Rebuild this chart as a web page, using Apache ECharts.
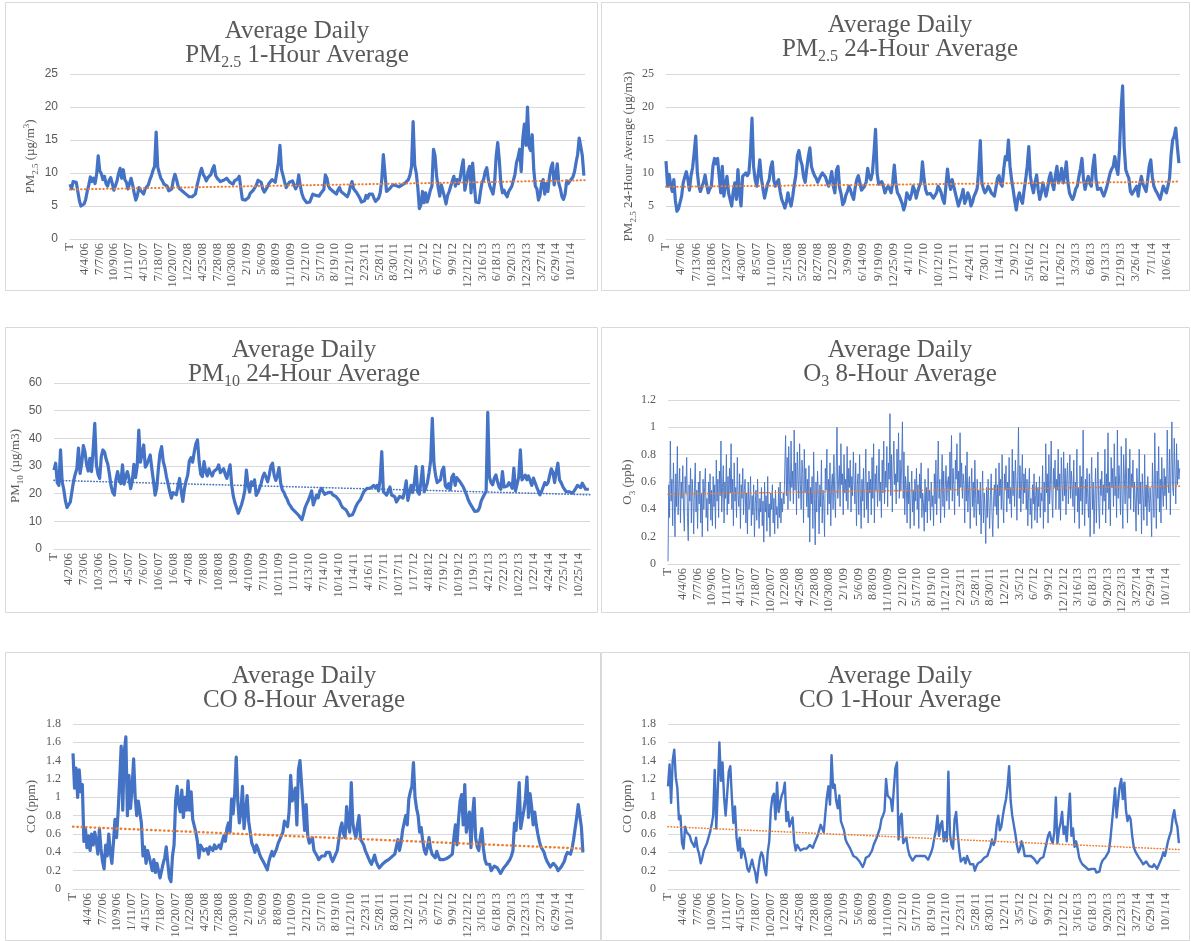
<!DOCTYPE html>
<html>
<head>
<meta charset="utf-8">
<title>Average Daily Air Quality</title>
<script src="https://cdn.jsdelivr.net/npm/echarts@6/dist/echarts.min.js"></script>
<style>
  html, body { margin: 0; padding: 0; background: #ffffff; }
  #chart { width: 1191px; height: 941px; }
</style>
</head>
<body>
<div id="chart"></div>
<script>
// Daily series 1/1/06 - 12/31/14, kept as one reading every SAMPLE_DAYS days
// (ozone every O3_SAMPLE_DAYS days).
const SAMPLE_DAYS = 10;
const O3_SAMPLE_DAYS = 5;
const LAST_DAY = 3287;

// Category tick labels (Excel shows every 94th / 97th / 92nd category)
const ticksEvery94 = ["T","4/4/06","7/7/06","10/9/06","1/11/07","4/15/07","7/18/07","10/20/07","1/22/08","4/25/08","7/28/08","10/30/08","2/1/09","5/6/09","8/8/09","11/10/09","2/12/10","5/17/10","8/19/10","11/21/10","2/23/11","5/28/11","8/30/11","12/2/11","3/5/12","6/7/12","9/9/12","12/12/12","3/16/13","6/18/13","9/20/13","12/23/13","3/27/14","6/29/14","10/1/14"];
const ticksEvery97 = ["T","4/7/06","7/13/06","10/18/06","1/23/07","4/30/07","8/5/07","11/10/07","2/15/08","5/22/08","8/27/08","12/2/08","3/9/09","6/14/09","9/19/09","12/25/09","4/1/10","7/7/10","10/12/10","1/17/11","4/24/11","7/30/11","11/4/11","2/9/12","5/16/12","8/21/12","11/26/12","3/3/13","6/8/13","9/13/13","12/19/13","3/26/14","7/1/14","10/6/14"];
const ticksEvery92 = ["T","4/2/06","7/3/06","10/3/06","1/3/07","4/5/07","7/6/07","10/6/07","1/6/08","4/7/08","7/8/08","10/8/08","1/8/09","4/10/09","7/11/09","10/11/09","1/11/10","4/13/10","7/14/10","10/14/10","1/14/11","4/16/11","7/17/11","10/17/11","1/17/12","4/18/12","7/19/12","10/19/12","1/19/13","4/21/13","7/22/13","10/22/13","1/22/14","4/24/14","7/25/14","10/25/14"];

// PM2.5 1-hour average (µg/m3)
const pm25OneHour = [
  8.3, 7.6, 8.7, 8.4, 8.6, 7.2, 5.8, 5.0, 4.8, 5.3,
  6.0, 7.2, 8.2, 9.4, 8.7, 9.2, 8.4, 9.8, 12.6, 10.3,
  9.9, 9.0, 9.5, 8.4, 8.0, 8.9, 9.3, 8.4, 7.4, 7.1,
  8.8, 9.9, 10.7, 9.2, 10.5, 9.0, 8.6, 7.6, 8.4, 9.2,
  8.2, 6.9, 5.9, 6.6, 7.8, 7.4, 7.2, 6.8, 7.6, 7.9,
  8.2, 9.0, 9.6, 10.4, 11.0, 16.2, 10.9, 10.0, 9.2, 8.8,
  8.3, 8.6, 8.0, 7.3, 7.0, 7.6, 9.0, 9.8, 9.0, 8.0,
  7.6, 7.8, 7.2, 7.0, 6.8, 6.5, 6.4, 6.6, 6.4, 6.5,
  6.8, 8.0, 9.0, 10.0, 10.7, 9.8, 9.4, 8.8, 9.3, 9.0,
  9.8, 10.6, 11.1, 9.6, 9.2, 8.9, 8.7, 8.6, 8.9, 8.7,
  9.2, 8.9, 8.6, 8.7, 8.3, 8.8, 8.9, 9.1, 9.5, 9.7,
  6.0, 5.8, 5.9, 5.6, 6.3, 6.9, 7.0, 7.4, 7.8, 8.2,
  8.9, 9.2, 8.6, 7.6, 7.1, 7.4, 7.9, 8.4, 8.7, 9.0,
  9.2, 8.6, 8.3, 11.5, 14.2, 10.5, 9.6, 8.6, 7.8, 8.0,
  8.6, 8.9, 8.8, 8.2, 7.6, 8.1, 9.7, 8.0, 6.9, 6.2,
  5.9, 5.5, 5.3, 5.6, 6.2, 6.8, 6.9, 6.6, 6.3, 6.5,
  6.9, 7.1, 7.5, 9.7, 9.2, 8.0, 7.6, 7.4, 7.2, 7.0,
  6.8, 7.4, 7.8, 7.2, 7.0, 6.8, 6.6, 6.4, 7.0, 8.0,
  8.7, 7.6, 7.4, 7.0, 6.8, 6.2, 5.6, 5.4, 5.8, 6.6,
  6.2, 6.8, 7.1, 6.8, 6.2, 5.7, 5.9, 6.2, 7.0, 9.0,
  12.8, 10.0, 7.2, 7.0, 7.6, 7.9, 8.2, 7.9, 8.1, 8.0,
  7.9, 8.1, 8.2, 8.4, 8.5, 8.6, 9.0, 9.7, 11.0, 17.8,
  11.2, 10.0, 7.8, 4.6, 5.2, 7.2, 5.5, 7.0, 5.6, 6.4,
  7.4, 8.0, 13.6, 12.6, 9.5, 7.8, 6.5, 8.2, 8.0, 6.4,
  5.3, 6.6, 7.2, 8.0, 8.8, 9.5, 8.0, 9.0, 8.4, 9.2,
  10.8, 12.0, 7.4, 8.6, 10.2, 11.0, 7.0, 11.5, 8.4, 5.6,
  5.3, 5.5, 7.2, 8.6, 9.0, 10.2, 10.8, 9.0, 8.0, 7.4,
  6.8, 8.5, 12.5, 14.6, 12.0, 8.4, 7.0, 7.4, 6.8, 6.4,
  7.2, 7.6, 8.0, 8.3, 9.8, 11.6, 12.4, 13.6, 10.2, 15.2,
  17.4, 14.2, 20.0, 14.0, 13.4, 15.8, 10.5, 8.0, 7.6, 5.9,
  6.6, 8.4, 9.0, 6.8, 8.4, 7.2, 9.4, 10.8, 11.5, 8.2,
  9.4, 11.4, 8.4, 7.6, 6.4, 6.0, 6.8, 8.8, 8.4, 8.8,
  8.6, 9.4, 10.2, 11.6, 12.8, 15.3, 14.0, 12.6, 9.6
];
const pm25OneHourTrend = [7.5, 8.9];

// PM2.5 24-hour average (µg/m3)
const pm25Daily24 = [
  11.8, 8.0, 9.8, 8.2, 7.2, 9.0, 5.8, 4.2, 4.6, 4.4,
  6.5, 8.5, 9.4, 10.2, 9.0, 7.4, 9.6, 10.8, 13.0, 15.6,
  10.2, 8.0, 7.2, 7.0, 8.6, 9.7, 8.2, 7.0, 7.6, 8.0,
  11.0, 12.2, 11.4, 12.2, 9.5, 7.0, 11.0, 6.5, 8.2, 9.5,
  7.0, 6.0, 5.0, 7.2, 8.5, 6.0, 10.5, 7.0, 5.0, 9.5,
  9.8, 10.0, 9.6, 10.0, 13.0, 18.3, 11.0, 9.0, 8.0, 9.8,
  12.0, 9.2, 7.6, 6.2, 6.4, 8.4, 9.0, 10.8, 11.7, 8.8,
  8.0, 8.6, 9.0, 7.2, 6.0, 5.4, 4.7, 5.6, 7.0, 5.8,
  5.0, 6.4, 8.2, 9.6, 12.6, 13.4, 12.0, 11.2, 9.4, 8.6,
  10.6, 12.5, 13.8, 11.0, 10.2, 9.6, 9.2, 8.6, 8.8, 9.6,
  10.0, 10.2, 9.4, 8.6, 8.0, 9.0, 10.2, 8.0, 7.0, 10.4,
  11.0, 7.8, 6.8, 5.2, 5.6, 6.6, 7.2, 8.0, 7.4, 6.6,
  6.0, 7.8, 9.0, 9.6, 9.6, 7.4, 7.2, 8.0, 8.6, 10.7,
  9.4, 9.0, 10.0, 13.0, 16.6, 10.0, 8.3, 8.6, 8.7, 8.0,
  7.0, 7.6, 8.0, 7.6, 7.0, 8.6, 11.2, 8.4, 7.0, 6.6,
  6.4, 5.4, 4.4, 5.2, 7.0, 6.4, 6.0, 6.8, 8.0, 7.4,
  6.2, 7.2, 8.0, 8.6, 11.7, 9.2, 7.5, 6.8, 6.5, 6.9,
  6.7, 6.2, 6.5, 7.0, 8.0, 7.6, 7.0, 6.0, 5.4, 8.0,
  10.6, 8.6, 7.5, 9.0, 8.0, 7.0, 6.0, 5.0, 4.7, 6.5,
  7.5, 5.4, 6.0, 7.0, 6.4, 5.0, 5.6, 6.5, 7.0, 7.7,
  10.5, 14.9, 8.5, 7.6, 7.0, 7.4, 8.0, 7.6, 7.0, 6.8,
  6.5, 7.8, 9.2, 9.6, 8.4, 8.0, 10.6, 12.5, 12.0, 15.0,
  11.0, 9.0, 7.5, 5.8, 4.4, 6.2, 7.0, 6.0, 5.4, 7.4,
  9.0, 11.0, 14.0, 9.6, 8.0, 7.0, 8.6, 9.7, 7.5, 6.0,
  7.0, 8.5, 7.6, 6.5, 7.6, 9.2, 10.0, 8.4, 7.5, 9.6,
  11.0, 8.5, 9.2, 10.7, 8.5, 9.6, 11.7, 8.6, 7.0, 6.4,
  6.0, 6.6, 7.6, 8.0, 9.4, 10.6, 12.2, 9.0, 7.5, 8.6,
  9.5, 8.4, 8.0, 11.0, 12.7, 9.0, 7.5, 7.2, 7.7, 7.0,
  6.5, 7.2, 8.0, 9.0, 10.0, 10.6, 11.0, 12.5, 10.8, 9.8,
  13.5, 19.5, 23.2, 14.0, 10.5, 9.8, 9.2, 7.2, 6.8, 6.5,
  7.6, 8.0, 6.5, 8.4, 9.5, 8.3, 8.0, 7.2, 9.0, 11.0,
  12.0, 9.4, 8.0, 7.4, 7.0, 6.5, 6.0, 7.0, 8.0, 7.4,
  7.0, 8.0, 9.2, 12.7, 15.0, 15.6, 16.8, 14.0, 11.5
];
const pm25Daily24Trend = [7.9, 8.7];

// PM10 24-hour average (µg/m3)
const pm10Daily24 = [
  28.5, 31.0, 24.0, 23.0, 35.8, 24.3, 21.5, 17.4, 15.0, 14.6,
  17.0, 20.8, 24.6, 27.0, 29.0, 36.5, 27.3, 31.0, 37.4, 35.0,
  30.5, 28.2, 32.8, 28.0, 35.8, 45.4, 30.4, 27.0, 25.5, 33.4,
  35.8, 35.0, 32.4, 30.6, 27.0, 22.8, 20.5, 19.5, 25.2, 28.0,
  25.0, 23.6, 30.4, 23.4, 26.0, 28.0, 25.5, 21.8, 24.6, 30.6,
  25.8, 30.0, 43.0, 31.4, 34.4, 37.6, 29.6, 30.6, 31.0, 34.0,
  29.0, 24.6, 19.5, 22.0, 29.0, 34.6, 37.0, 31.6, 29.4, 26.0,
  23.4, 20.6, 18.4, 20.4, 20.0, 19.6, 22.6, 25.5, 21.0, 17.2,
  21.8, 24.6, 26.7, 31.8, 33.0, 31.4, 35.0, 38.0, 39.4, 31.6,
  27.0, 26.2, 31.6, 28.0, 26.4, 29.0, 27.4, 26.4, 28.0, 28.5,
  29.0, 30.4, 27.6, 27.0, 29.0, 27.0, 25.5, 28.0, 30.4, 23.0,
  19.0, 16.6, 14.8, 12.9, 14.4, 16.0, 18.2, 21.0, 28.5, 23.0,
  20.6, 24.3, 23.0, 25.0, 19.4, 20.4, 21.9, 23.6, 26.1, 27.4,
  26.0, 24.3, 26.7, 30.0, 31.0, 26.7, 24.8, 26.5, 29.4, 23.8,
  21.4, 20.5, 19.0, 18.0, 16.4, 15.6, 14.6, 14.0, 13.4, 12.8,
  12.2, 11.4, 10.6, 12.6, 15.0, 16.4, 17.6, 18.3, 21.0, 15.9,
  17.6, 19.5, 18.5, 21.0, 21.9, 20.8, 19.8, 19.5, 20.4, 20.7,
  20.5, 19.6, 19.0, 18.9, 18.2, 17.4, 16.0, 15.0, 14.5, 14.2,
  13.2, 12.0, 11.7, 12.4, 13.6, 15.2, 16.4, 17.2, 18.0, 19.4,
  20.7, 21.4, 21.9, 21.6, 22.0, 22.4, 23.0, 22.2, 23.0, 21.0,
  25.0, 35.2, 20.7, 20.0, 19.5, 21.0, 22.4, 19.5, 19.0, 18.9,
  17.0, 16.4, 19.0, 18.6, 18.4, 21.0, 24.6, 17.6, 20.4, 23.0,
  20.4, 24.0, 29.8, 20.7, 19.8, 24.0, 29.8, 20.7, 22.0, 24.0,
  27.6, 32.0, 47.2, 31.0, 26.6, 24.0, 23.4, 25.0, 28.4, 29.6,
  22.8, 22.0, 23.6, 21.4, 26.0, 27.0, 23.0, 25.8, 25.6, 24.3,
  23.6, 22.4, 21.0, 19.6, 17.8, 16.6, 15.6, 14.6, 13.6, 13.5,
  13.8, 15.0, 17.4, 18.6, 19.8, 20.7, 49.4, 26.0, 24.0, 23.2,
  25.6, 26.8, 24.3, 22.4, 21.6, 28.0, 22.4, 22.0, 22.8, 24.0,
  23.2, 21.9, 29.2, 21.0, 21.4, 26.0, 35.8, 25.0, 24.4, 26.7,
  25.0, 26.4, 27.0, 23.0, 25.6, 25.0, 22.4, 21.0, 19.6, 20.8,
  22.4, 24.0, 23.2, 24.0, 26.7, 29.0, 27.6, 24.0, 28.0, 31.0,
  25.0, 24.0, 22.6, 21.6, 20.7, 20.5, 20.7, 20.5, 20.2, 21.0,
  21.9, 23.0, 23.4, 22.2, 23.8, 24.0, 21.6, 21.2, 21.6
];
const pm10Daily24Trend = [24.8, 19.6];

// O3 8-hour average (ppb), one reading every 5 days
const o3EightHour = [
  0.02, 0.58, 0.34, 0.90, 0.46, 0.62, 0.28, 0.74, 0.50, 0.20, 0.66, 0.42, 0.86, 0.36, 0.56, 0.70, 0.30, 0.60, 0.48, 0.72,
  0.40, 0.24, 0.64, 0.52, 0.78, 0.34, 0.17, 0.58, 0.46, 0.70, 0.30, 0.62, 0.50, 0.22, 0.56, 0.74, 0.38, 0.54, 0.26, 0.60,
  0.44, 0.68, 0.30, 0.52, 0.20, 0.62, 0.40, 0.56, 0.70, 0.34, 0.48, 0.24, 0.60, 0.44, 0.66, 0.32, 0.54, 0.28, 0.64, 0.42,
  0.58, 0.26, 0.76, 0.46, 0.62, 0.34, 0.68, 0.50, 0.90, 0.38, 0.56, 0.72, 0.30, 0.60, 0.48, 0.80, 0.36, 0.64, 0.44, 0.70,
  0.52, 0.88, 0.40, 0.62, 0.28, 0.74, 0.46, 0.56, 0.34, 0.78, 0.50, 0.42, 0.66, 0.26, 0.58, 0.48, 0.70, 0.36, 0.54, 0.62,
  0.30, 0.52, 0.22, 0.60, 0.40, 0.46, 0.64, 0.28, 0.50, 0.36, 0.58, 0.20, 0.44, 0.54, 0.32, 0.62, 0.42, 0.26, 0.48, 0.38,
  0.56, 0.28, 0.46, 0.16, 0.60, 0.38, 0.50, 0.24, 0.64, 0.34, 0.44, 0.20, 0.52, 0.40, 0.58, 0.30, 0.48, 0.22, 0.54, 0.36,
  0.42, 0.26, 0.56, 0.34, 0.60, 0.30, 0.48, 0.38, 0.52, 0.44, 0.70, 0.94, 0.50, 0.78, 0.40, 0.86, 0.60, 0.46, 0.90, 0.56,
  0.68, 0.44, 0.98, 0.54, 0.74, 0.36, 0.82, 0.62, 0.48, 0.88, 0.58, 0.40, 0.76, 0.66, 0.30, 0.84, 0.52, 0.70, 0.42, 0.62,
  0.34, 0.72, 0.16, 0.56, 0.44, 0.64, 0.26, 0.82, 0.48, 0.14, 0.60, 0.38, 0.68, 0.50, 0.22, 0.58, 0.42, 0.76, 0.30, 0.54,
  0.46, 0.20, 0.70, 0.54, 0.84, 0.36, 0.62, 0.44, 0.74, 0.28, 0.58, 0.66, 0.40, 0.80, 0.52, 0.34, 0.68, 1.00, 0.48, 0.60,
  0.72, 0.42, 0.88, 0.58, 0.66, 0.36, 0.80, 0.52, 0.62, 0.46, 0.86, 0.40, 0.70, 0.56, 0.76, 0.38, 0.64, 0.50, 0.82, 0.60,
  0.44, 0.74, 0.28, 0.58, 0.66, 0.36, 0.80, 0.50, 0.26, 0.62, 0.46, 0.70, 0.34, 0.56, 0.84, 0.40, 0.60, 0.30, 0.68, 0.52,
  0.62, 0.36, 0.78, 0.48, 0.88, 0.30, 0.66, 0.54, 0.72, 0.42, 0.58, 0.84, 0.46, 0.60, 0.34, 0.76, 0.52, 0.90, 0.44, 0.68,
  0.56, 0.86, 0.42, 0.74, 0.62, 1.10, 0.50, 0.80, 0.38, 0.70, 0.90, 0.58, 0.66, 0.44, 0.84, 0.60, 0.96, 0.48, 0.76, 0.54,
  0.72, 1.04, 0.48, 0.82, 0.36, 0.64, 0.56, 0.30, 0.72, 0.44, 0.60, 0.26, 0.50, 0.68, 0.38, 0.54, 0.28, 0.62, 0.46, 0.70,
  0.40, 0.58, 0.26, 0.66, 0.48, 0.74, 0.34, 0.52, 0.44, 0.24, 0.62, 0.38, 0.56, 0.30, 0.70, 0.46, 0.54, 0.32, 0.60, 0.42,
  0.50, 0.28, 0.66, 0.44, 0.76, 0.36, 0.58, 0.90, 0.48, 0.62, 0.30, 0.54, 0.80, 0.42, 0.68, 0.34, 0.56, 0.72, 0.46, 0.60,
  0.64, 0.40, 0.82, 0.54, 0.94, 0.46, 0.70, 0.58, 0.36, 0.76, 0.62, 0.88, 0.50, 0.68, 0.42, 0.96, 0.56, 0.74, 0.48, 0.66,
  0.58, 0.30, 0.72, 0.46, 0.82, 0.38, 0.56, 0.64, 0.26, 0.52, 0.70, 0.42, 0.60, 0.34, 0.76, 0.48, 0.28, 0.62, 0.44, 0.54,
  0.36, 0.60, 0.22, 0.48, 0.68, 0.30, 0.52, 0.40, 0.15, 0.56, 0.34, 0.62, 0.44, 0.26, 0.50, 0.66, 0.38, 0.20, 0.46, 0.58,
  0.42, 0.70, 0.36, 0.58, 0.26, 0.74, 0.50, 0.62, 0.40, 0.80, 0.46, 0.30, 0.66, 0.54, 0.72, 0.38, 0.60, 0.48, 0.78, 0.44,
  0.56, 0.34, 0.84, 0.50, 0.68, 0.42, 0.76, 0.58, 0.32, 0.64, 1.00, 0.48, 0.72, 0.38, 0.60, 0.80, 0.44, 0.66, 0.52, 0.70,
  0.40, 0.62, 0.28, 0.54, 0.70, 0.36, 0.48, 0.26, 0.58, 0.44, 0.66, 0.32, 0.50, 0.60, 0.30, 0.56, 0.42, 0.64, 0.34, 0.52,
  0.46, 0.72, 0.26, 0.60, 0.38, 0.88, 0.52, 0.66, 0.30, 0.80, 0.44, 0.58, 0.90, 0.48, 0.34, 0.70, 0.56, 0.76, 0.40, 0.62,
  0.54, 0.84, 0.40, 0.66, 0.32, 0.78, 0.58, 0.46, 0.82, 0.50, 0.70, 0.36, 0.62, 0.74, 0.44, 0.60, 0.80, 0.48, 0.68, 0.56,
  0.42, 0.76, 0.30, 0.60, 0.50, 0.84, 0.38, 0.56, 0.26, 0.72, 0.46, 0.64, 0.36, 0.98, 0.52, 0.28, 0.62, 0.44, 0.70, 0.48,
  0.34, 0.66, 0.20, 0.54, 0.78, 0.40, 0.60, 0.22, 0.48, 0.70, 0.30, 0.56, 0.82, 0.44, 0.26, 0.62, 0.50, 0.68, 0.36, 0.58,
  0.46, 0.84, 0.30, 0.66, 0.52, 0.96, 0.40, 0.60, 0.28, 0.78, 0.56, 0.70, 0.42, 0.88, 0.50, 0.64, 0.34, 0.98, 0.48, 0.72,
  0.58, 0.36, 0.86, 0.50, 0.26, 0.80, 0.62, 0.44, 0.92, 0.54, 0.30, 0.70, 0.48, 0.84, 0.40, 0.66, 0.56, 0.76, 0.38, 0.60,
  0.46, 0.24, 0.70, 0.52, 0.36, 0.84, 0.44, 0.60, 0.22, 0.66, 0.50, 0.32, 0.80, 0.42, 0.58, 0.28, 0.64, 0.48, 0.38, 0.56,
  0.44, 0.20, 0.74, 0.52, 0.34, 0.96, 0.58, 0.26, 0.68, 0.48, 0.86, 0.38, 0.62, 0.30, 0.78, 0.54, 0.42, 0.70, 0.50, 0.64,
  0.40, 0.98, 0.60, 0.52, 0.84, 0.36, 0.72, 1.04, 0.56, 0.50, 0.92, 0.66, 0.44, 0.88, 0.58, 0.76, 0.62, 0.70
];
const o3EightHourTrend = [0.51, 0.57];

// CO 8-hour average (ppm)
const coEightHour = [
  1.48, 1.10, 1.32, 1.00, 1.30, 1.06, 1.14, 0.52, 0.66, 0.45,
  0.58, 0.42, 0.60, 0.48, 0.62, 0.52, 0.38, 0.66, 0.44, 0.30,
  0.22, 0.48, 0.36, 0.60, 0.40, 0.28, 0.50, 0.76, 0.56, 0.84,
  1.18, 1.56, 0.86, 1.50, 1.66, 0.80, 1.24, 0.88, 1.10, 1.42,
  1.00, 0.80, 0.96, 0.98, 0.72, 0.36, 0.46, 0.28, 0.42, 0.44,
  0.28, 0.20, 0.32, 0.18, 0.28, 0.30, 0.12, 0.20, 0.28, 0.34,
  0.46, 0.28, 0.12, 0.08, 0.36, 0.48, 0.96, 1.12, 0.92, 0.84,
  1.08, 0.78, 1.00, 0.86, 1.18, 0.86, 1.06, 0.76, 0.78, 0.62,
  0.52, 0.34, 0.48, 0.50, 0.42, 0.40, 0.44, 0.38, 0.46, 0.48,
  0.42, 0.48, 0.44, 0.46, 0.48, 0.44, 0.52, 0.58, 0.52, 0.66,
  0.72, 0.62, 0.98, 0.82, 1.04, 1.44, 0.96, 0.72, 0.84, 1.12,
  0.66, 0.68, 1.02, 0.74, 0.62, 0.50, 0.46, 0.40, 0.48, 0.44,
  0.38, 0.34, 0.32, 0.28, 0.26, 0.21, 0.30, 0.36, 0.41, 0.36,
  0.34, 0.44, 0.50, 0.54, 0.58, 0.62, 0.74, 0.72, 0.68, 0.84,
  1.24, 0.96, 1.02, 1.10, 0.70, 1.30, 1.40, 1.42, 0.90, 0.64,
  0.92, 0.58, 0.50, 0.52, 0.56, 0.42, 0.40, 0.36, 0.32, 0.30,
  0.36, 0.38, 0.36, 0.40, 0.40, 0.40, 0.34, 0.30, 0.34, 0.38,
  0.42, 0.54, 0.66, 0.72, 0.60, 0.56, 0.90, 0.70, 0.62, 1.16,
  0.72, 0.62, 0.56, 0.70, 0.80, 0.54, 0.52, 0.48, 0.42, 0.38,
  0.34, 0.30, 0.27, 0.32, 0.37, 0.30, 0.26, 0.23, 0.25, 0.27,
  0.28, 0.30, 0.30, 0.32, 0.34, 0.35, 0.36, 0.38, 0.46, 0.54,
  0.42, 0.50, 0.64, 0.72, 0.80, 0.70, 0.98, 1.06, 1.12, 1.38,
  1.00, 0.88, 0.80, 0.62, 0.67, 0.52, 0.42, 0.38, 0.46, 0.56,
  0.44, 0.38, 0.36, 0.34, 0.41, 0.36, 0.32, 0.30, 0.32, 0.34,
  0.33, 0.34, 0.35, 0.36, 0.38, 0.56, 0.70, 0.48, 0.76, 0.96,
  1.03, 0.70, 1.14, 0.62, 0.74, 0.84, 0.45, 0.80, 0.99, 0.56,
  0.46, 0.42, 0.56, 0.66, 0.44, 0.32, 0.27, 0.26, 0.27, 0.20,
  0.18, 0.25, 0.24, 0.23, 0.20, 0.17, 0.18, 0.23, 0.25, 0.27,
  0.28, 0.32, 0.36, 0.42, 0.72, 0.64, 0.90, 1.16, 0.66, 0.76,
  0.86, 0.98, 1.22, 0.78, 1.04, 0.90, 0.70, 0.84, 0.70, 0.60,
  0.52, 0.46, 0.44, 0.40, 0.34, 0.30, 0.28, 0.24, 0.26, 0.28,
  0.26, 0.24, 0.20, 0.22, 0.24, 0.23, 0.30, 0.36, 0.40, 0.42,
  0.38, 0.44, 0.54, 0.66, 0.78, 0.92, 0.80, 0.68, 0.40
];
const coEightHourTrend = [0.68, 0.44];

// CO 1-hour average (ppm)
const coOneHour = [
  1.12, 1.36, 0.94, 1.40, 1.52, 1.22, 1.10, 0.76, 0.80, 0.50,
  0.44, 0.68, 0.62, 0.60, 0.58, 0.52, 0.50, 0.46, 0.56, 0.44,
  0.38, 0.28, 0.34, 0.42, 0.46, 0.50, 0.56, 0.62, 0.70, 0.80,
  1.30, 0.66, 1.10, 1.60, 1.18, 1.38, 1.00, 0.80, 1.04, 1.28,
  1.34, 1.00, 0.72, 0.90, 0.56, 0.42, 0.56, 0.34, 0.44, 0.40,
  0.32, 0.22, 0.19, 0.26, 0.32, 0.24, 0.18, 0.07, 0.22, 0.34,
  0.40, 0.36, 0.22, 0.15, 0.40, 0.52, 0.86, 1.00, 1.04, 0.76,
  1.16, 0.84, 0.94, 1.02, 1.06, 1.16, 0.74, 0.84, 0.68, 0.66,
  0.78, 0.52, 0.42, 0.48, 0.46, 0.42, 0.41, 0.44, 0.46, 0.44,
  0.46, 0.48, 0.46, 0.45, 0.50, 0.54, 0.58, 0.64, 0.70, 0.66,
  0.62, 0.82, 1.00, 1.12, 0.92, 1.46, 1.10, 1.14, 0.96, 0.88,
  1.02, 0.74, 0.76, 0.64, 0.54, 0.50, 0.48, 0.44, 0.40, 0.36,
  0.36, 0.34, 0.32, 0.30, 0.27, 0.24, 0.28, 0.34, 0.36, 0.36,
  0.34, 0.42, 0.48, 0.52, 0.56, 0.58, 0.66, 0.76, 0.80, 0.85,
  1.20, 1.02, 1.00, 0.98, 0.85, 1.10, 1.32, 1.38, 0.54, 0.78,
  0.82, 0.50, 0.52, 0.56, 0.44, 0.37, 0.34, 0.31, 0.32, 0.36,
  0.37, 0.36, 0.37, 0.36, 0.37, 0.36, 0.34, 0.32, 0.36, 0.40,
  0.46, 0.56, 0.64, 0.80, 0.58, 0.70, 0.74, 0.52, 0.62, 0.52,
  1.28, 0.60, 0.48, 0.44, 0.76, 0.84, 0.60, 0.42, 0.30, 0.30,
  0.34, 0.28, 0.36, 0.34, 0.27, 0.26, 0.27, 0.20, 0.25, 0.28,
  0.29, 0.30, 0.32, 0.34, 0.35, 0.36, 0.38, 0.46, 0.54, 0.48,
  0.52, 0.70, 0.80, 0.64, 0.68, 0.80, 0.90, 0.98, 1.12, 1.34,
  0.96, 0.80, 0.70, 0.60, 0.48, 0.40, 0.44, 0.52, 0.46, 0.36,
  0.34, 0.36, 0.37, 0.36, 0.35, 0.33, 0.31, 0.28, 0.30, 0.33,
  0.34, 0.35, 0.37, 0.50, 0.58, 0.62, 0.54, 0.50, 0.62, 1.00,
  0.50, 0.64, 0.72, 0.84, 0.60, 0.68, 0.52, 0.80, 1.04, 0.58,
  0.66, 0.46, 0.52, 0.44, 0.34, 0.30, 0.27, 0.26, 0.24, 0.23,
  0.21, 0.19, 0.22, 0.24, 0.22, 0.18, 0.16, 0.19, 0.27, 0.31,
  0.33, 0.35, 0.38, 0.41, 0.54, 0.72, 0.90, 1.10, 0.78, 0.96,
  1.12, 1.20, 0.98, 1.16, 0.86, 0.74, 0.80, 0.76, 0.58, 0.46,
  0.41, 0.38, 0.35, 0.33, 0.30, 0.27, 0.28, 0.30, 0.28, 0.25,
  0.23, 0.24, 0.27, 0.25, 0.22, 0.22, 0.30, 0.34, 0.40, 0.36,
  0.44, 0.52, 0.58, 0.63, 0.78, 0.86, 0.74, 0.68, 0.50
];
const coOneHourTrend = [0.68, 0.43];

// ---------------------------------------------------------------------------
const SERIF = "'Liberation Serif', 'DejaVu Serif', serif";
const SANS = "'Liberation Sans', 'DejaVu Sans', sans-serif";
const TEXT = '#595959';
const GRIDLINE = '#d9d9d9';
const BLUE = '#4472C4';
const ORANGE = '#ED7D31';

// rich-text pieces for sub/superscripts; a small token height lets
// verticalAlign push the token below / above the main text
const titleRich = {
  n: { fontFamily: SERIF, fontSize: 25, color: TEXT, lineHeight: 24 },
  s: { fontFamily: SERIF, fontSize: 16, color: TEXT, height: 8, verticalAlign: 'bottom' }
};
const nameRich = {
  n: { fontFamily: SERIF, fontSize: 13, color: TEXT, lineHeight: 16 },
  s: { fontFamily: SERIF, fontSize: 9, color: TEXT, height: 7, verticalAlign: 'bottom' },
  p: { fontFamily: SERIF, fontSize: 9, color: TEXT, height: 7, verticalAlign: 'top' }
};

const panels = [
  { title: 'Average Daily\n{n|PM}{s|2.5}{n| 1-Hour Average}',
    yName: '{n|PM}{s|2.5}{n| (µg/m}{p|3}{n|)}',
    values: pm25OneHour, sampleDays: SAMPLE_DAYS, trend: pm25OneHourTrend, trendColor: ORANGE, trendWidth: 2,
    ticks: ticksEvery94, step: 94, yMax: 25, yStep: 5, tickFont: SANS,
    box: [5, 2, 592, 288], grid: [70, 74, 515, 165], titleX: 297, titleTop: 19,
    nameGap: 31, lineWidth: 3.2 },
  { title: 'Average Daily\n{n|PM}{s|2.5}{n| 24-Hour Average}',
    yName: '{n|PM}{s|2.5}{n| 24-Hour Average (µg/m3)}',
    values: pm25Daily24, sampleDays: SAMPLE_DAYS, trend: pm25Daily24Trend, trendColor: ORANGE, trendWidth: 2,
    ticks: ticksEvery97, step: 97, yMax: 25, yStep: 5, tickFont: SERIF,
    box: [601, 2, 588, 288], grid: [666, 74, 514, 165], titleX: 900, titleTop: 13,
    nameGap: 29, lineWidth: 3.2 },
  { title: 'Average Daily\n{n|PM}{s|10}{n| 24-Hour Average}',
    yName: '{n|PM}{s|10}{n| (µg/m3)}',
    values: pm10Daily24, sampleDays: SAMPLE_DAYS, trend: pm10Daily24Trend, trendColor: BLUE, trendWidth: 1.6,
    ticks: ticksEvery92, step: 92, yMax: 60, yStep: 10, tickFont: SANS,
    box: [5, 327, 592, 285], grid: [54, 383, 536, 166], titleX: 304, titleTop: 338,
    nameGap: 30, lineWidth: 3.2 },
  { title: 'Average Daily\n{n|O}{s|3}{n| 8-Hour Average}',
    yName: '{n|O}{s|3}{n| (ppb)}',
    values: o3EightHour, sampleDays: O3_SAMPLE_DAYS, trend: o3EightHourTrend, trendColor: ORANGE, trendWidth: 1.6,
    ticks: ticksEvery94, step: 94, yMax: 1.2, yStep: 0.2, tickFont: SERIF,
    box: [601, 327, 588, 285], grid: [668, 400, 512, 164], titleX: 900, titleTop: 338,
    nameGap: 32, lineWidth: 0.9 },
  { title: 'Average Daily\n{n|CO 8-Hour Average}',
    yName: '{n|CO (ppm)}',
    values: coEightHour, sampleDays: SAMPLE_DAYS, trend: coEightHourTrend, trendColor: ORANGE, trendWidth: 2.4,
    ticks: ticksEvery94, step: 94, yMax: 1.8, yStep: 0.2, tickFont: SERIF,
    box: [5, 652, 595, 288], grid: [73, 724, 511, 165], titleX: 304, titleTop: 664,
    nameGap: 33, lineWidth: 3.2 },
  { title: 'Average Daily\n{n|CO 1-Hour Average}',
    yName: '{n|CO (ppm)}',
    values: coOneHour, sampleDays: SAMPLE_DAYS, trend: coOneHourTrend, trendColor: ORANGE, trendWidth: 1.6,
    ticks: ticksEvery94, step: 94, yMax: 1.8, yStep: 0.2, tickFont: SERIF,
    box: [601, 652, 588, 288], grid: [668, 724, 512, 165], titleX: 900, titleTop: 664,
    nameGap: 32, lineWidth: 2.4 }
];

const option = {
  animation: false,
  backgroundColor: '#ffffff',
  title: panels.map(p => ({
    text: p.title,
    left: p.titleX,
    top: p.titleTop,
    textAlign: 'center',
    padding: 0,
    textStyle: { fontFamily: SERIF, fontSize: 25, fontWeight: 'normal', color: TEXT, lineHeight: 24, rich: titleRich }
  })),
  graphic: panels.map(p => ({
    type: 'rect', silent: true, z: -1,
    shape: { x: p.box[0] + 0.5, y: p.box[1] + 0.5, width: p.box[2], height: p.box[3] },
    style: { fill: 'none', stroke: GRIDLINE, lineWidth: 1 }
  })),
  grid: panels.map(p => ({ left: p.grid[0], top: p.grid[1], width: p.grid[2], height: p.grid[3], containLabel: false })),
  xAxis: panels.map((p, k) => ({
    type: 'value', gridIndex: k, min: 0, max: LAST_DAY, interval: p.step,
    axisLine: { show: true, onZero: false, lineStyle: { color: GRIDLINE, width: 1 } },
    axisTick: { show: false },
    splitLine: { show: false },
    axisLabel: {
      rotate: 90, margin: 4, fontFamily: SERIF, fontSize: 12.5, color: TEXT,
      showMinLabel: true, showMaxLabel: false, hideOverlap: false,
      formatter: v => {
        const k = Math.round(v / p.step);
        return (Math.abs(v - k * p.step) < 1e-6 && k < p.ticks.length) ? p.ticks[k] : '';
      }
    }
  })),
  yAxis: panels.map((p, k) => ({
    type: 'value', gridIndex: k, min: 0, max: p.yMax, interval: p.yStep,
    axisLine: { show: false }, axisTick: { show: false },
    splitLine: { lineStyle: { color: GRIDLINE, width: 1 } },
    axisLabel: { margin: 12, fontFamily: p.tickFont, fontSize: 12, color: TEXT },
    name: p.yName, nameLocation: 'middle', nameRotate: 90, nameGap: p.nameGap,
    nameTextStyle: { fontFamily: SERIF, fontSize: 13, color: TEXT, lineHeight: 16, rich: nameRich }
  })),
  series: panels.flatMap((p, k) => [
    {
      type: 'line', xAxisIndex: k, yAxisIndex: k, z: 2,
      data: p.values.map((v, i) => [i * p.sampleDays, v]),
      symbol: 'none', showSymbol: false, smooth: false,
      lineStyle: { color: BLUE, width: p.lineWidth, join: 'round' },
      itemStyle: { color: BLUE }
    },
    {
      type: 'line', xAxisIndex: k, yAxisIndex: k, z: 3,
      data: [[0, p.trend[0]], [LAST_DAY, p.trend[1]]],
      symbol: 'none', showSymbol: false,
      lineStyle: { color: p.trendColor, width: p.trendWidth, type: [0.5, p.trendWidth * 1.6], cap: 'round' },
      itemStyle: { color: p.trendColor }
    }
  ])
};

const chart = echarts.init(document.getElementById('chart'), null, { renderer: 'canvas' });
chart.setOption(option);
</script>
</body>
</html>
